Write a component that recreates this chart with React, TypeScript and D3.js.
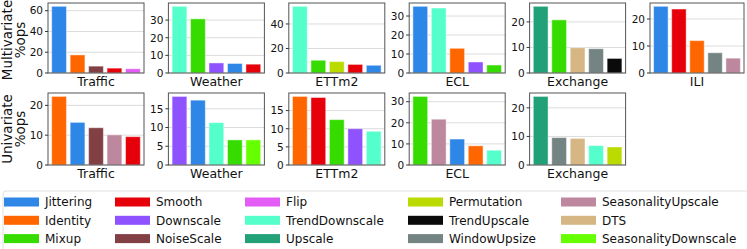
import React from 'react';
import * as d3 from 'd3';

// augmentation colours (legend order)
const methods = ['Jittering', 'Identity', 'Mixup', 'Smooth', 'Downscale', 'NoiseScale', 'Flip', 'TrendDownscale', 'Upscale', 'Permutation', 'TrendUpscale', 'WindowUpsize', 'SeasonalityUpscale', 'DTS', 'SeasonalityDownscale'];
const colors = ['#2e86e6', '#ff6600', '#36dc00', '#e6000a', '#8f52ff', '#824045', '#e35cf5', '#55ffcc', '#22a077', '#bada00', '#0a0a0a', '#748482', '#bd879d', '#d6b783', '#66ff00'];

const datasetsTop = ['Traffic', 'Weather', 'ETTm2', 'ECL', 'Exchange', 'ILI'];
const datasetsBottom = ['Traffic', 'Weather', 'ETTm2', 'ECL', 'Exchange'];

// multivariate: top-5 ops per dataset
const multiOps = [
  ['Jittering', 'Identity', 'NoiseScale', 'Smooth', 'Flip'],
  ['TrendDownscale', 'Mixup', 'Downscale', 'Jittering', 'Smooth'],
  ['TrendDownscale', 'Mixup', 'Permutation', 'Smooth', 'Jittering'],
  ['Jittering', 'TrendDownscale', 'Identity', 'Downscale', 'Mixup'],
  ['Upscale', 'Mixup', 'DTS', 'WindowUpsize', 'TrendUpscale'],
  ['Jittering', 'Smooth', 'Identity', 'WindowUpsize', 'SeasonalityUpscale'],
];
const multiVals = [
  [64.2, 17.4, 6.6, 4.7, 4.1],
  [37.8, 30.7, 5.7, 5.4, 5.0],
  [54.4, 10.4, 9.3, 7.0, 6.3],
  [35.1, 34.2, 13.0, 5.8, 4.2],
  [26.1, 20.8, 9.9, 9.5, 5.7],
  [24.7, 23.7, 12.0, 7.5, 5.5],
];
const multiTicks = [[0, 20, 40, 60], [0, 10, 20, 30], [0, 20, 40], [0, 10, 20, 30], [0, 10, 20], [0, 10, 20]];

// univariate
const uniOps = [
  ['Identity', 'Jittering', 'NoiseScale', 'SeasonalityUpscale', 'Smooth'],
  ['Downscale', 'Jittering', 'TrendDownscale', 'Mixup', 'SeasonalityDownscale'],
  ['Identity', 'Smooth', 'Mixup', 'Downscale', 'TrendDownscale'],
  ['Mixup', 'SeasonalityUpscale', 'Jittering', 'Identity', 'TrendDownscale'],
  ['Upscale', 'WindowUpsize', 'DTS', 'TrendDownscale', 'Permutation'],
];
const uniVals = [
  [23.0, 14.3, 12.5, 10.1, 9.5],
  [18.3, 17.3, 11.3, 6.7, 6.7],
  [18.9, 18.6, 12.5, 10.0, 9.3],
  [32.5, 21.7, 12.3, 9.1, 7.0],
  [24.0, 9.6, 9.3, 6.8, 6.3],
];
const uniTicks = [[0, 10, 20], [0, 5, 10, 15], [0, 5, 10, 15], [0, 10, 20, 30], [0, 10, 20]];

const FONT = '"DejaVu Sans", Verdana, sans-serif';
const colorOf = d3.scaleOrdinal<string, string>().domain(methods).range(colors);

function Panel({x, y, width, height, ops, values, ticks, label}) {
  const scaleX = d3.scaleBand<number>()
    .domain(d3.range(ops.length))
    .range([0, width])
    .paddingInner(0.2)
    .paddingOuter(0.2);
  const scaleY = d3.scaleLinear()
    .domain([0, d3.max(values) * 1.05])
    .range([height, 0]);

  return (
    <g transform={`translate(${x}, ${y})`}>
      <rect x={0} y={0} width={width} height={height} fill="white" />
      {ticks.map((t, i) =>
        <line key={`grid_${i}`} x1={0} x2={width} y1={scaleY(t)} y2={scaleY(t)} stroke="#dcdcdc" strokeWidth={1} />
      )}
      {values.map((v, i) =>
        <rect
          key={`bar_${i}`}
          x={scaleX(i)}
          y={scaleY(v)}
          width={scaleX.bandwidth()}
          height={height - scaleY(v)}
          fill={colorOf(ops[i])}
          stroke="white"
          strokeOpacity={0.45}
          strokeWidth={1}
        />
      )}
      <rect x={0} y={0} width={width} height={height} fill="none" stroke="#555" strokeWidth={1} />
      {ticks.map((t, i) =>
        <g key={`tick_${i}`} transform={`translate(0, ${scaleY(t)})`}>
          <line x1={-3} x2={0} y1={0} y2={0} stroke="#333" strokeWidth={1} />
          <text x={-5} y={0} dy="0.36em" textAnchor="end" fontSize={10.5} fontFamily={FONT} fill="#111">{t}</text>
        </g>
      )}
      <text x={width / 2} y={height + 13} textAnchor="middle" fontSize={12.5} fontFamily={FONT} fill="#111">{label}</text>
    </g>
  );
}

function YLabel({x, y, lines}) {
  return (
    <g transform={`translate(${x}, ${y}) rotate(-90)`}>
      {lines.map((l, i) =>
        <text key={l} x={0} y={i * 13} textAnchor="middle" fontSize={13.5} fontFamily={FONT} fill="#111">{l}</text>
      )}
    </g>
  );
}

function Legend({x, y}) {
  const colX = [0, 111, 241, 404, 557];
  const rowH = 18.3;
  return (
    <g transform={`translate(${x}, ${y})`}>
      <rect x={0} y={0} width={760} height={70} rx={3} fill="white" stroke="#e0e0e0" strokeWidth={1} />
      {methods.map((m, i) => {
        const c = Math.floor(i / 3), r = i % 3;
        const ty = 11 + r * rowH;
        return (
          <g key={m} transform={`translate(${colX[c] + 1}, ${ty})`}>
            <rect x={0} y={-4.5} width={35} height={9} fill={colors[i]} />
            <text x={41} y={0} dy="0.36em" fontSize={12} fontFamily={FONT} fill="#111">{m}</text>
          </g>
        );
      })}
    </g>
  );
}

export default function App() {
  const width = 747, height = 249;
  const panelW = 96;
  const left = (i) => 48 + i * 120.4;
  return (
    <svg width={width} height={height} xmlns="http://www.w3.org/2000/svg"
      style={{position: 'absolute', left: 0, top: 0, background: 'white'}}>
      {datasetsTop.map((d, i) =>
        <Panel key={`top_${d}`} x={left(i)} y={3} width={i === 5 ? 94 : panelW} height={70}
          ops={multiOps[i]} values={multiVals[i]} ticks={multiTicks[i]} label={d} />
      )}
      {datasetsBottom.map((d, i) =>
        <Panel key={`bot_${d}`} x={left(i)} y={93} width={panelW} height={72}
          ops={uniOps[i]} values={uniVals[i]} ticks={uniTicks[i]} label={d} />
      )}
      <YLabel x={12} y={40} lines={['Multivariate', '%ops']} />
      <YLabel x={12} y={129} lines={['Univariate', '%ops']} />
      <Legend x={3} y={191} />
    </svg>
  );
}
